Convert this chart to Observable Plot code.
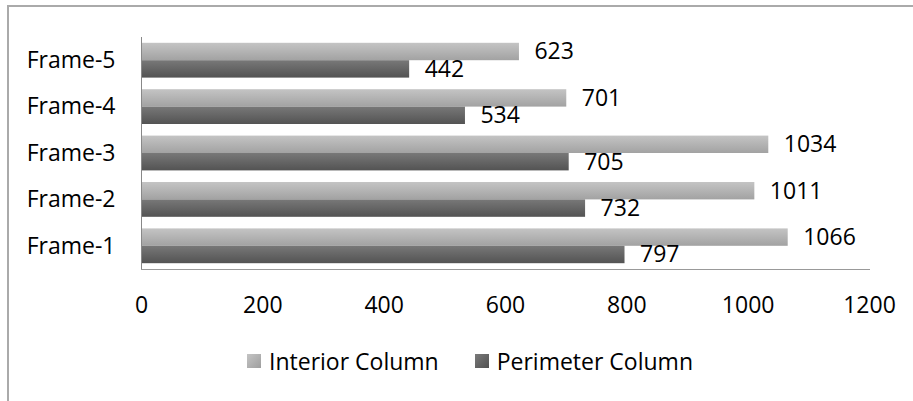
<!DOCTYPE html>
<html>
<head>
<meta charset="utf-8">
<script src="https://cdn.jsdelivr.net/npm/d3@7"></script>
<script src="https://cdn.jsdelivr.net/npm/@observablehq/plot@0.6"></script>
<style>
  html, body { margin: 0; padding: 0; background: #fff; }
  body { width: 913px; height: 401px; position: relative; overflow: hidden; font-family: "Open Sans", sans-serif; }
  #border { position: absolute; left: 7px; top: 5px; right: -4px; bottom: -4px; border-top: 2px solid #aaa; border-left: 2px solid #aaa; }
  #chart { position: absolute; left: 0; top: 0; }
  #legend { position: absolute; left: 247px; top: 345px; display: flex; align-items: center; font-size: 23px; color: #000; }
  .item { display: flex; align-items: center; margin-right: 36px; }
  .sw { width: 14px; height: 14px; margin-right: 8px; }
</style>
</head>
<body>
<div id="border"></div>
<div id="chart"></div>
<div id="legend"></div>
<script>
const frames = ["Frame-1", "Frame-2", "Frame-3", "Frame-4", "Frame-5"];
const interior = [1066, 1011, 1034, 701, 623];
const perimeter = [797, 732, 705, 534, 442];
const seriesNames = ["Interior Column", "Perimeter Column"];
const xTicks = [0, 200, 400, 600, 800, 1000, 1200];

const interiorData = frames.map((f, i) => ({frame: f, value: interior[i]}));
const perimeterData = frames.map((f, i) => ({frame: f, value: perimeter[i]}));

const W = 913, H = 340, mt = 37, mb = 71, ml = 141, mr = 44;
const pI = 0.25, pO = 0.125;
const step = (H - mt - mb) / (frames.length - pI + 2 * pO);
const bw = step * (1 - pI);

const svgNS = "http://www.w3.org/2000/svg";
function gradient(id, c1, c2) {
  const g = document.createElementNS(svgNS, "linearGradient");
  g.setAttribute("id", id);
  g.setAttribute("x1", "0"); g.setAttribute("y1", "0");
  g.setAttribute("x2", "0"); g.setAttribute("y2", "1");
  [[0, c1], [1, c2]].forEach(([o, c]) => {
    const s = document.createElementNS(svgNS, "stop");
    s.setAttribute("offset", o);
    s.setAttribute("stop-color", c);
    g.appendChild(s);
  });
  return g;
}
const defsMark = () => {
  const defs = document.createElementNS(svgNS, "defs");
  defs.appendChild(gradient("gInt", "#c4c4c4", "#a2a2a2"));
  defs.appendChild(gradient("gPer", "#787878", "#535353"));
  return defs;
};

const chart = Plot.plot({
  width: W, height: H,
  marginTop: mt, marginBottom: mb, marginLeft: ml, marginRight: mr,
  style: {fontFamily: "Open Sans, sans-serif", fontSize: "23px", color: "#000", background: "transparent", overflow: "visible"},
  x: {domain: [0, 1200], ticks: xTicks, tickFormat: d => String(d), tickSize: 0, tickPadding: 27, label: null},
  y: {domain: frames.slice().reverse(), paddingInner: pI, paddingOuter: pO, round: false, tickSize: 0, tickPadding: 26, label: null},
  marks: [
    defsMark,
    Plot.barX(interiorData, {x: "value", y: "frame", fill: "url(#gInt)", insetBottom: bw / 2}),
    Plot.barX(perimeterData, {x: "value", y: "frame", fill: "url(#gPer)", insetTop: bw / 2}),
    Plot.text(interiorData, {x: "value", y: "frame", text: d => String(d.value), textAnchor: "start", dx: 15, dy: -bw / 4, fill: "#000", fontSize: 23}),
    Plot.text(perimeterData, {x: "value", y: "frame", text: d => String(d.value), textAnchor: "start", dx: 15, dy: bw / 4, fill: "#000", fontSize: 23}),
    Plot.ruleX([0], {stroke: "#888", strokeWidth: 1}),
    Plot.frame({anchor: "bottom", stroke: "#999", strokeWidth: 1})
  ]
});
document.getElementById("chart").appendChild(chart);

const legend = document.getElementById("legend");
const swatchFills = ["linear-gradient(135deg, #c4c4c4, #9e9e9e)", "linear-gradient(135deg, #7a7a7a, #505050)"];
seriesNames.forEach((name, i) => {
  const item = document.createElement("div");
  item.className = "item";
  const sw = document.createElement("div");
  sw.className = "sw";
  sw.style.background = swatchFills[i];
  const t = document.createElement("span");
  t.textContent = name;
  item.appendChild(sw);
  item.appendChild(t);
  legend.appendChild(item);
});
</script>
</body>
</html>
